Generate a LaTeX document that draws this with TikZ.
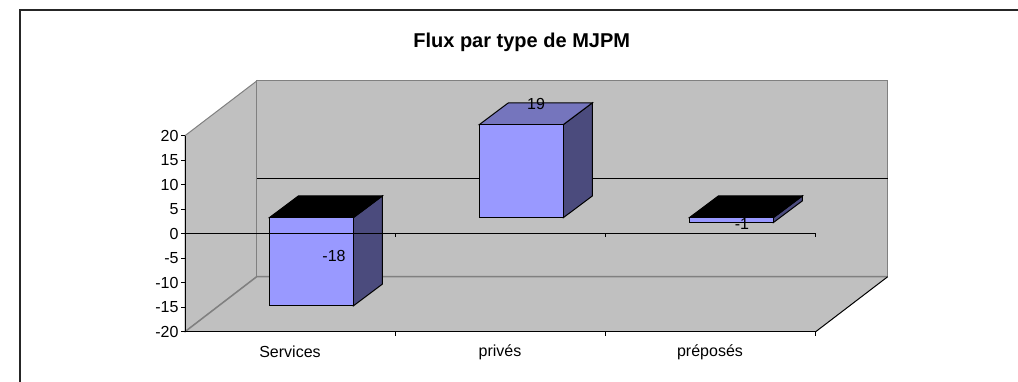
\documentclass[tikz,border=0pt]{standalone}
\usepackage{fontspec}
\setmainfont{Liberation Sans}
\definecolor{wallgray}{HTML}{C0C0C0}
\definecolor{edgegray}{HTML}{808080}
\definecolor{barblue}{HTML}{9999FF}
\definecolor{barside}{HTML}{4B4B7D}
\definecolor{bartop}{HTML}{7575BD}
% one column: left x of front face, top y, bottom y, colour of the top face
\newcommand{\colbar}[4]{%
  \filldraw[fill=barside] (#1+84,#2) -- (#1+113,#2-21.7) -- (#1+113,#3-21.7) -- (#1+84,#3) -- cycle;
  \filldraw[fill=#4] (#1,#2) -- (#1+29,#2-21.7) -- (#1+113,#2-21.7) -- (#1+84,#2) -- cycle;
  \filldraw[fill=barblue] (#1,#2) rectangle (#1+84,#3);
}
\begin{document}
\begin{tikzpicture}[x=1pt, y=-1pt, line width=1pt, every node/.style = {font=\fontsize{16}{18}\selectfont, inner sep=1pt}]
	\tikzstyle{wall} = [fill=wallgray, draw=edgegray]
	\tikzstyle{title} = [font=\fontsize{20}{22}\selectfont\bfseries]
	\tikzstyle{ylab} = [anchor=east]
	\useasboundingbox (0,0) rectangle (1018,382);
	\draw[black!85, line width=1.5pt] (1018,10) -- (20,10) -- (20,382);
	\node[title] (title) at (521.7,42) {Flux par type de MJPM};
	% walls and floor
	\filldraw[wall] (185,135.7) -- (256.7,81) -- (256.7,276.7) -- (185,331.7) -- cycle;
	\filldraw[wall] (256.7,81) rectangle (887.7,276.7);
	\fill[wallgray] (185,331.7) -- (815.7,331.7) -- (887.7,276.7) -- (256.7,276.7) -- cycle;
	\draw[edgegray, line width=1.5pt] (185,331.7) -- (256.7,276.7) -- (887.7,276.7);
	\draw (815.7,331.7) -- (887.7,276.7);
	\draw (256.7,179) -- (887.7,179);
	% columns
	\colbar{269.3}{217.7}{305.9}{black}
	\colbar{479.3}{124.6}{217.7}{bartop}
	\colbar{689.3}{217.7}{222.6}{black}
	\node (vserv) at (334,256) {-18};
	\node (vpriv) at (536,104) {19};
	\node (vprep) at (742,224) {-1};
	% axes
	\draw (185,135.7) -- (185,331.7) -- (815.7,331.7);
	\draw (185,233.7) -- (815.7,233.7);
	\foreach \x in {395,605,815.7} {
		\draw (\x,233.7) -- (\x,237.5);
		\draw (\x,331.7) -- (\x,335.5);
	}
	\foreach \v in {-20,-15,...,20} {
		\draw (181,233.7-4.9*\v) -- (185,233.7-4.9*\v);
		\node[ylab] (y\v) at (180,233.7-4.9*\v) {\v};
	}
	\node (cserv) at (290,352) {Services};
	\node (cpriv) at (500,352) {privés};
	\node (cprep) at (710,352) {préposés};
\end{tikzpicture}
\end{document}
